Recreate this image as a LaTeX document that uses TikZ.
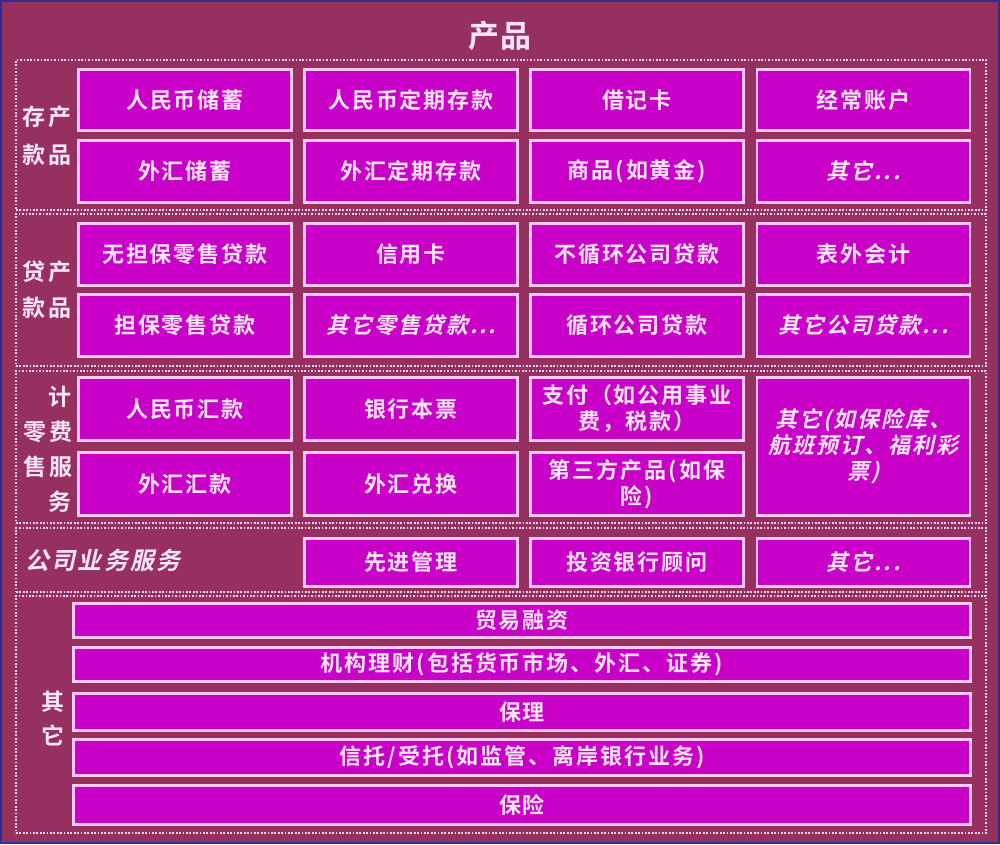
\documentclass[tikz,border=0pt]{standalone}
\usepackage{fontspec}
\newfontfamily\cjkb{Noto Sans CJK SC Bold}[LetterSpace=9]
\newfontfamily\cjkbi{Noto Sans CJK SC Bold}[LetterSpace=9,FakeSlant=0.22]
\newfontfamily\cjkt{Noto Sans CJK SC Bold}[LetterSpace=6]
\definecolor{bg}{HTML}{96305E}
\definecolor{boxfill}{HTML}{C800C8}
\definecolor{boxline}{HTML}{FFC8F8}
\definecolor{txt}{HTML}{FFE4FA}
\definecolor{dotc}{HTML}{FFD6F2}
\definecolor{framec}{HTML}{2E2E90}
\tikzset{
  box/.style={draw=boxline, fill=boxfill, line width=2.6pt, inner sep=0pt,
    text=txt, align=center, font=\cjkb\fontsize{22}{26}\selectfont},
  ibox/.style={box, font=\cjkbi\fontsize{22}{26}\selectfont},
  colw/.style={minimum width=213pt},
  widew/.style={minimum width=897pt},
  sect/.style={draw=dotc, line width=2.6pt, dash pattern=on 1.7pt off 1.7pt, inner sep=0pt,
    minimum width=970pt},
  lab/.style={text=txt, inner sep=0pt, font=\cjkb\fontsize{23}{26}\selectfont},
  ilab/.style={text=txt, inner sep=0pt, font=\cjkbi\fontsize{24}{26}\selectfont},
}
\begin{document}
\begin{tikzpicture}[x=1pt,y=-1pt]
\useasboundingbox (0,0) rectangle (1000,844);
\fill[bg] (0,0) rectangle (1000,844);
\draw[framec, line width=1.5pt] (1,1) rectangle (999,843);

\node[text=txt, font=\cjkt\fontsize{31}{34}\selectfont] (title) at (500,36) {产品};

% sections
\node[sect, minimum height=150pt] (s1) at (501,135) {};
\node[sect, minimum height=152pt] (s2) at (501,290) {};
\node[sect, minimum height=152pt] (s3) at (501,447) {};
\node[sect, minimum height=64pt]  (s4) at (501,560) {};
\node[sect, minimum height=237pt] (s5) at (501,714.5) {};

% section labels
\node[lab] (l1a) at (47,117) {存产};
\node[lab] (l1b) at (47,155) {款品};
\node[lab] (l2a) at (47,272) {贷产};
\node[lab] (l2b) at (47,308) {款品};
\node[lab] (l3a) at (60,397) {计};
\node[lab] (l3b) at (48,432) {零费};
\node[lab] (l3c) at (48,467) {售服};
\node[lab] (l3d) at (60,502) {务};
\node[ilab] (l4) at (103,560) {公司业务服务};
\node[lab] (l5a) at (53,702) {其};
\node[lab] (l5b) at (53,735) {它};

% section 1
\node[box,colw,minimum height=61pt] (a11) at (185,100) {人民币储蓄};
\node[box,colw,minimum height=61pt] (a12) at (411,100) {人民币定期存款};
\node[box,colw,minimum height=61pt] (a13) at (637,100) {借记卡};
\node[box,colw,minimum height=61pt] (a14) at (863.5,100) {经常账户};
\node[box,colw,minimum height=62pt] (a21) at (185,171.5) {外汇储蓄};
\node[box,colw,minimum height=62pt] (a22) at (411,171.5) {外汇定期存款};
\node[box,colw,minimum height=62pt] (a23) at (637,171.5) {商品(如黄金)};
\node[ibox,colw,minimum height=62pt] (a24) at (863.5,171.5) {其它...};

% section 2
\node[box,colw,minimum height=62pt] (b11) at (185,254.5) {无担保零售贷款};
\node[box,colw,minimum height=62pt] (b12) at (411,254.5) {信用卡};
\node[box,colw,minimum height=62pt] (b13) at (637,254.5) {不循环公司贷款};
\node[box,colw,minimum height=62pt] (b14) at (863.5,254.5) {表外会计};
\node[box,colw,minimum height=62pt] (b21) at (185,325.5) {担保零售贷款};
\node[ibox,colw,minimum height=62pt] (b22) at (411,325.5) {其它零售贷款...};
\node[box,colw,minimum height=62pt] (b23) at (637,325.5) {循环公司贷款};
\node[ibox,colw,minimum height=62pt] (b24) at (863.5,325.5) {其它公司贷款...};

% section 3
\node[box,colw,minimum height=63pt] (c11) at (185,409) {人民币汇款};
\node[box,colw,minimum height=63pt] (c12) at (411,409) {银行本票};
\node[box,colw,minimum height=63pt] (c13) at (637,409) {支付（如公用事业\\费，税款）};
\node[ibox,colw,minimum height=138pt] (c14) at (863.5,446.5) {其它(如保险库、\\航班预订、福利彩\\票)};
\node[box,colw,minimum height=63pt] (c21) at (185,484) {外汇汇款};
\node[box,colw,minimum height=63pt] (c22) at (411,484) {外汇兑换};
\node[box,colw,minimum height=63pt] (c23) at (637,484) {第三方产品(如保\\险)};

% section 4
\node[box,colw,minimum height=48pt] (d2) at (411,562.5) {先进管理};
\node[box,colw,minimum height=48pt] (d3) at (637,562.5) {投资银行顾问};
\node[ibox,colw,minimum height=48pt] (d4) at (863.5,562.5) {其它...};

% section 5
\node[box,widew,minimum height=34pt] (e1) at (522,620.5) {贸易融资};
\node[box,widew,minimum height=34pt] (e2) at (522,664.5) {机构理财(包括货币市场、外汇、证券)};
\node[box,widew,minimum height=37pt] (e3) at (522,712) {保理};
\node[box,widew,minimum height=36pt] (e4) at (522,757.5) {信托/受托(如监管、离岸银行业务)};
\node[box,widew,minimum height=39pt] (e5) at (522,805) {保险};
\end{tikzpicture}
\end{document}
